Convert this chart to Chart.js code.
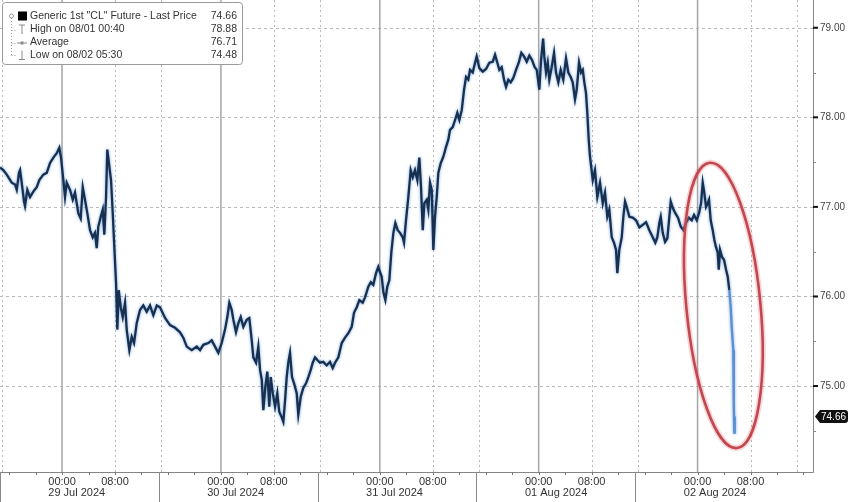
<!DOCTYPE html>
<html lang="en">
<head>
  <meta charset="UTF-8">
  <title>Generic 1st 'CL' Future</title>
  <script src="https://cdn.jsdelivr.net/npm/chart.js"></script>
  <style>
    html, body {
      margin: 0;
      padding: 0;
      background: #fff;
    }
    #wrap {
      width: 848px;
      height: 502px;
      position: relative;
    }
  </style>
</head>
<body>
  <div id="wrap"><canvas id="clChart"></canvas></div>

  <script>
    // hours counted from 29 Jul 2024 00:00, price in USD/bbl
    const hours = [
      // 28 Jul evening - 29 Jul
      -9.37, -8.87, -8.35, -7.60, -7.10, -6.84, -6.50, -6.34, -6.09, -5.74,
      -5.59, -5.24, -4.83, -4.34, -3.82, -3.43, -2.83, -2.31, -1.81, -1.31,
      -0.80, -0.41, -0.15, 0.20, 0.45, 0.71, 1.21, 1.62, 1.96, 2.46,
      2.82, 3.13, 3.47, 3.82, 4.23, 4.64, 4.98, 5.24, 5.48, 5.85,
      6.15, 6.39, 6.65, 6.84, 7.15, 7.40, 7.66, 7.90, 8.16, 8.35,
      8.56, 8.87, 9.17, 9.52, 9.77, 10.17, 10.53, 10.88, 11.28, 11.78,
      12.28, 12.79, 13.29, 13.79, 14.31, 14.80, 15.56, 16.31, 17.07, 17.82,
      18.32, 18.84, 19.59, 20.35, 20.85,
      // 30 Jul
      21.34, 22.10, 22.61, 23.11, 23.61, 24.12, 24.62, 24.97, 25.27, 25.63,
      25.88, 26.28, 26.63, 26.99, 27.39, 27.90, 28.29, 28.66, 28.90, 29.31,
      29.65, 29.91, 30.17, 30.41, 30.71, 31.01, 31.31, 31.53, 31.83, 32.18,
      32.52, 32.82, 33.19, 33.43, 33.69, 33.94, 34.18, 34.44, 34.74, 35.05,
      35.45, 35.69, 36.06, 36.45, 36.86, 37.21, 37.57, 37.87, 38.22, 38.57,
      38.97, 39.47, 39.98, 40.48, 40.89, 41.24, 41.74, 42.25, 42.75, 43.25,
      43.76, 44.11, 44.52, 44.91, 45.42, 45.77, 46.27, 46.63, 47.02, 47.43,
      47.78, 48.04, 48.29, 48.54, 48.84, 49.14, 49.44, 49.74, 50.05, 50.35,
      50.71, 51.06,
      // 31 Jul
      51.47, 51.66, 51.96, 52.31, 52.67, 52.98, 53.32, 53.67, 53.97, 54.23,
      54.49, 54.73, 55.09, 55.33, 55.59, 55.85, 56.09, 56.34, 56.60, 56.84,
      57.21, 57.60, 58.01, 58.35, 58.61, 59.02, 59.37, 59.71, 60.02, 60.38,
      60.73, 61.03, 61.37, 61.63, 62.04, 62.39, 62.64, 63.04, 63.55, 64.05,
      64.55, 65.06, 65.41, 65.76, 66.06, 66.42, 66.77, 67.07, 67.42, 67.78,
      68.17, 68.58, 68.99, 69.38, 69.79, 70.20, 70.59, 71.00, 71.40, 71.71,
      72.10, 72.36, 72.67, 72.85, 73.11, 73.37, 73.61, 73.97, 74.32, 74.62,
      74.97, 75.33, 75.72, 76.13, 76.48, 76.84, 77.14, 77.49, 77.75, 78.10,
      78.40, 78.66, 78.90, 79.15, 79.35, 79.56, 79.76,
      // 01 Aug - 02 Aug
      80.17, 80.51, 80.86, 81.27, 81.68, 82.02, 82.37, 82.67, 83.04, 83.38,
      83.69, 83.88, 84.18, 84.55, 84.79, 85.05, 85.30, 85.70, 86.21, 86.71,
      87.21, 87.72, 88.22, 88.72, 89.23, 89.62, 89.92, 90.23, 90.44, 90.74,
      91.09, 91.44, 91.74, 91.95, 92.25, 92.64, 93.05, 93.46, 93.85, 94.26,
      94.67, 95.12, 95.47, 95.88, 96.22, 96.53, 96.78, 97.02, 97.28, 97.54,
      97.73, 97.99, 98.29, 98.54, 98.79, 99.05, 99.20, 99.40, 99.70, 100.00,
      100.30, 100.56, 100.80, 101.01, 101.16, 101.30, 101.40, 101.45, 101.50, 101.55,
      101.62
    ];

    const prices = [
      77.44, 77.41, 77.36, 77.27, 77.25, 77.19, 77.38, 77.41, 77.27, 77.06,
      77.01, 77.19, 77.11, 77.17, 77.22, 77.30, 77.36, 77.38, 77.49, 77.55,
      77.60, 77.66, 77.55, 77.30, 77.11, 77.27, 77.19, 77.08, 77.16, 76.93,
      76.87, 77.22, 77.08, 76.93, 76.74, 76.66, 76.71, 76.54, 76.78, 76.89,
      76.97, 76.69, 77.11, 77.64, 77.45, 77.30, 76.93, 76.55, 76.15, 75.63,
      76.07, 75.88, 75.77, 75.93, 75.63, 75.40, 75.55, 75.48, 75.70, 75.85,
      75.90, 75.83, 75.90, 75.79, 75.90, 75.88, 75.76, 75.68, 75.65, 75.60,
      75.54, 75.44, 75.40, 75.44, 75.40,

      75.46, 75.48, 75.51, 75.44, 75.37, 75.48, 75.63, 75.77, 75.93, 75.85,
      75.74, 75.60, 75.70, 75.77, 75.66, 75.74, 75.76, 75.51, 75.32, 75.26,
      75.44, 75.18, 75.07, 74.73, 74.99, 75.16, 74.77, 75.10, 74.92, 74.77,
      74.92, 74.71, 74.65, 74.60, 74.84, 75.10, 75.26, 75.37, 75.10, 75.03,
      74.92, 74.68, 74.88, 74.98, 75.03, 75.10, 75.18, 75.26, 75.32, 75.29,
      75.26, 75.27, 75.23, 75.27, 75.20, 75.26, 75.32, 75.48, 75.54, 75.59,
      75.66, 75.82, 75.88, 75.96, 75.93, 75.99, 76.11, 76.16, 76.13, 76.26,
      76.33, 76.27, 76.22, 76.05, 75.96, 76.11, 76.18, 76.49, 76.71, 76.82,
      76.74, 76.71,

      76.66, 76.60, 76.85, 77.11, 77.41, 77.33, 77.41, 77.30, 77.55, 77.22,
      76.74, 77.04, 77.08, 76.97, 77.27, 77.19, 76.52, 76.89, 77.11, 77.38,
      77.49, 77.56, 77.67, 77.75, 77.86, 77.89, 77.97, 78.05, 77.97, 78.08,
      78.31, 78.45, 78.42, 78.53, 78.50, 78.61, 78.68, 78.55, 78.51, 78.54,
      78.61, 78.62, 78.70, 78.61, 78.53, 78.56, 78.42, 78.34, 78.42, 78.39,
      78.44, 78.53, 78.61, 78.72, 78.68, 78.62, 78.69, 78.64, 78.56, 78.53,
      78.31, 78.64, 78.88, 78.68, 78.50, 78.61, 78.42, 78.56, 78.72, 78.50,
      78.39, 78.53, 78.42, 78.66, 78.50, 78.45, 78.39, 78.20, 78.31, 78.61,
      78.50, 78.53, 78.39, 78.27, 78.05, 77.75, 77.56,

      77.30, 77.41, 77.11, 77.27, 77.04, 77.16, 76.89, 76.97, 76.66, 76.60,
      76.52, 76.26, 76.52, 76.66, 76.89, 77.06, 77.00, 76.89, 76.88, 76.85,
      76.77, 76.80, 76.83, 76.74, 76.66, 76.60, 76.66, 76.82, 76.89, 76.71,
      76.61, 76.65, 76.89, 77.06, 76.99, 76.93, 76.88, 76.78, 76.74, 76.82,
      76.88, 76.85, 76.91, 76.85, 76.93, 77.04, 77.27, 77.16, 77.00, 77.04,
      77.08, 76.85, 76.74, 76.63, 76.55, 76.49, 76.30, 76.52, 76.44, 76.41,
      76.30, 76.22, 76.07, 75.88, 75.66, 75.51, 75.40, 75.03, 74.81, 74.48,
      74.66
    ];

    // axis setup
    const dayStarts = [0, 24, 48, 72, 96];
    const dayLabels = ['29 Jul 2024', '30 Jul 2024', '31 Jul 2024', '01 Aug 2024', '02 Aug 2024'];
    const timeOffsets = [0, 8];
    const timeLabels = ['00:00', '08:00'];
    const yTicks = [75, 76, 77, 78, 79];
    const yMinorTicks = [74.5, 75.5, 76.5, 77.5, 78.5];

    const legendRows = [
      ['Generic 1st "CL" Future - Last Price', '74.66'],
      ['High on 08/01 00:40', '78.88'],
      ['Average', '76.71'],
      ['Low on 08/02 05:30', '74.48']
    ];
    const lastPrice = 74.66;

    // the red ring drawn round the last session's drop
    const ring = { x: 99.9, y: 75.9, halfHours: 5.6, halfPrice: 1.6, tilt: -0.095 };

    const FONT = '"Liberation Sans", Arial, sans-serif';

    const overlay = {
      id: 'overlay',
      beforeDatasetsDraw(chart) {
        const { ctx, chartArea: a, scales: { x, y } } = chart;
        ctx.save();
        // horizontal dashed lines
        ctx.strokeStyle = '#b9b9b9';
        ctx.lineWidth = 1;
        ctx.setLineDash([3, 3]);
        yTicks.forEach(v => {
          const py = Math.round(y.getPixelForValue(v)) + 0.5;
          ctx.beginPath();
          ctx.moveTo(a.left, py);
          ctx.lineTo(a.right, py);
          ctx.stroke();
        });
        // dotted verticals at 08:00 and 15:00
        ctx.setLineDash([2, 3]);
        for (let d = -24; d <= 96; d += 24) {
          [8, 15].forEach(o => {
            const px = x.getPixelForValue(d + o);
            if (px < a.left || px > a.right) return;
            ctx.beginPath();
            ctx.moveTo(Math.round(px) + 0.5, a.top);
            ctx.lineTo(Math.round(px) + 0.5, a.bottom);
            ctx.stroke();
          });
        }
        // solid verticals at midnight
        ctx.setLineDash([]);
        ctx.strokeStyle = '#a6a6a6';
        ctx.lineWidth = 1.5;
        dayStarts.forEach(d => {
          const px = x.getPixelForValue(d);
          ctx.beginPath();
          ctx.moveTo(px, a.top);
          ctx.lineTo(px, a.bottom);
          ctx.stroke();
        });
        ctx.restore();
      },
      beforeDatasetDraw(chart) {
        // soft blue halo like the dense tick line
        const c = chart.ctx;
        c.save();
        c.shadowColor = 'rgba(70, 130, 205, 0.75)';
        c.shadowBlur = 3;
      },
      afterDatasetDraw(chart) {
        chart.ctx.restore();
      },
      afterDatasetsDraw(chart) {
        const { ctx, scales: { x, y } } = chart;
        const cx = x.getPixelForValue(ring.x);
        const cy = y.getPixelForValue(ring.y);
        const rx = x.getPixelForValue(ring.x + ring.halfHours) - cx;
        const ry = y.getPixelForValue(ring.y - ring.halfPrice) - cy;
        ctx.save();
        ctx.beginPath();
        ctx.ellipse(cx, cy, rx, ry, ring.tilt, 0, Math.PI * 2);
        ctx.strokeStyle = 'rgba(226, 120, 128, 0.3)';
        ctx.lineWidth = 6;
        ctx.stroke();
        ctx.strokeStyle = '#c3474e';
        ctx.lineWidth = 2.6;
        ctx.stroke();
        ctx.restore();
      },
      afterDraw(chart) {
        const { ctx, chartArea: a, scales: { x, y } } = chart;
        ctx.save();

        // axis lines
        ctx.strokeStyle = '#858585';
        ctx.lineWidth = 1;
        ctx.beginPath();
        ctx.moveTo(a.left, a.bottom + 0.5);
        ctx.lineTo(a.right + 0.5, a.bottom + 0.5);
        ctx.lineTo(a.right + 0.5, a.top);
        ctx.stroke();

        // x minor ticks every 4 hours
        ctx.strokeStyle = '#777';
        for (let h = -8; h <= 112; h += 4) {
          const px = Math.round(x.getPixelForValue(h)) + 0.5;
          ctx.beginPath();
          ctx.moveTo(px, a.bottom);
          ctx.lineTo(px, a.bottom + 3);
          ctx.stroke();
        }
        // day separators below the axis
        ctx.strokeStyle = '#8a8a8a';
        [-24, 0, 24, 48, 72].forEach(d => {
          const px = Math.round(x.getPixelForValue(d + 14.6)) + 0.5;
          ctx.beginPath();
          ctx.moveTo(px, a.bottom);
          ctx.lineTo(px, chart.height);
          ctx.stroke();
        });

        // x labels
        ctx.fillStyle = '#333';
        ctx.font = '11px ' + FONT;
        ctx.textBaseline = 'middle';
        const half = ctx.measureText('00:00').width / 2;
        dayStarts.forEach((d, i) => {
          timeOffsets.forEach((o, j) => {
            ctx.textAlign = 'center';
            ctx.fillText(timeLabels[j], x.getPixelForValue(d + o), a.bottom + 10);
          });
          ctx.textAlign = 'left';
          ctx.fillText(dayLabels[i], x.getPixelForValue(d) - half, a.bottom + 21);
        });

        // y ticks and labels
        ctx.font = '10px ' + FONT;
        ctx.textAlign = 'left';
        yTicks.forEach(v => {
          const py = y.getPixelForValue(v);
          ctx.fillStyle = '#111';
          ctx.fillRect(a.right, py - 1, 5, 2);
          ctx.fillStyle = '#444';
          ctx.fillText(v.toFixed(2), a.right + 7, py);
        });
        ctx.strokeStyle = '#888';
        yMinorTicks.forEach(v => {
          const py = Math.round(y.getPixelForValue(v)) + 0.5;
          ctx.beginPath();
          ctx.moveTo(a.right, py);
          ctx.lineTo(a.right + 3, py);
          ctx.stroke();
        });

        // last price tag
        const ty = y.getPixelForValue(lastPrice);
        const tl = a.right + 2;
        ctx.fillStyle = '#111';
        ctx.beginPath();
        ctx.moveTo(tl, ty);
        ctx.lineTo(tl + 5, ty - 6.5);
        ctx.lineTo(chart.width - 3, ty - 6.5);
        ctx.quadraticCurveTo(chart.width, ty - 6.5, chart.width, ty - 3.5);
        ctx.lineTo(chart.width, ty + 3.5);
        ctx.quadraticCurveTo(chart.width, ty + 6.5, chart.width - 3, ty + 6.5);
        ctx.lineTo(tl + 5, ty + 6.5);
        ctx.closePath();
        ctx.fill();
        ctx.fillStyle = '#fff';
        ctx.font = '10px ' + FONT;
        ctx.fillText(lastPrice.toFixed(2), tl + 6, ty + 0.5);

        // legend box
        ctx.fillStyle = '#fff';
        ctx.strokeStyle = '#9a9a9a';
        ctx.lineWidth = 1;
        ctx.beginPath();
        ctx.roundRect(2.5, 2.5, 240, 62, 3);
        ctx.fill();
        ctx.stroke();

        const rowY = [16, 29.5, 42.5, 55];
        // tree connector
        ctx.strokeStyle = '#9a9a9a';
        ctx.setLineDash([1, 2]);
        ctx.beginPath();
        ctx.moveTo(11.5, 18);
        ctx.lineTo(11.5, rowY[3]);
        rowY.slice(1).forEach(ry => {
          ctx.moveTo(11.5, Math.round(ry) + 0.5);
          ctx.lineTo(17, Math.round(ry) + 0.5);
        });
        ctx.stroke();
        ctx.setLineDash([]);
        ctx.beginPath();
        ctx.arc(11.5, rowY[0], 2, 0, Math.PI * 2);
        ctx.stroke();

        // icons
        ctx.fillStyle = '#000';
        ctx.fillRect(18, rowY[0] - 4.5, 9, 9);
        ctx.strokeStyle = '#8a8a8a';
        ctx.lineWidth = 1;
        ctx.beginPath();
        ctx.moveTo(19, rowY[1] - 4.5); ctx.lineTo(25, rowY[1] - 4.5);
        ctx.moveTo(22, rowY[1] - 4.5); ctx.lineTo(22, rowY[1] + 4.5);
        ctx.moveTo(17, rowY[2] + 0.5); ctx.lineTo(27, rowY[2] + 0.5);
        ctx.moveTo(22, rowY[3] - 4.5); ctx.lineTo(22, rowY[3] + 4.5);
        ctx.moveTo(19, rowY[3] + 4.5); ctx.lineTo(25, rowY[3] + 4.5);
        ctx.stroke();
        ctx.fillStyle = '#8a8a8a';
        ctx.fillRect(20.5, rowY[2] - 1, 3, 3);

        // legend text
        ctx.fillStyle = '#333';
        ctx.font = '10.5px ' + FONT;
        legendRows.forEach((r, i) => {
          ctx.textAlign = 'left';
          ctx.fillText(r[0], 30, rowY[i]);
          ctx.textAlign = 'right';
          ctx.fillText(r[1], 237, rowY[i]);
        });

        ctx.restore();
      }
    };

    const ctx = document.getElementById('clChart').getContext('2d');
    new Chart(ctx, {
      type: 'line',
      data: {
        datasets: [{
          label: 'Generic 1st CL Future',
          data: hours.map((h, i) => ({ x: h, y: prices[i] })),
          borderColor: '#18304f',
          borderWidth: 2.3,
          pointRadius: 0,
          tension: 0,
          segment: {
            borderColor: c => c.p1.parsed.x > 100.9 ? '#5b8fd4' : undefined
          }
        }]
      },
      options: {
        responsive: true,
        maintainAspectRatio: false,
        animation: false,
        layout: { padding: 0 },
        plugins: {
          legend: { display: false },
          tooltip: { enabled: false }
        },
        scales: {
          x: {
            type: 'linear',
            min: -9.37,
            max: 113.44,
            ticks: { display: false },
            grid: { display: false },
            border: { display: false },
            afterFit: s => { s.height = 30; }
          },
          y: {
            position: 'right',
            min: 74.04,
            max: 79.31,
            ticks: { display: false },
            grid: { display: false },
            border: { display: false },
            afterFit: s => { s.width = 35; }
          }
        }
      },
      plugins: [overlay]
    });
  </script>
</body>
</html>
